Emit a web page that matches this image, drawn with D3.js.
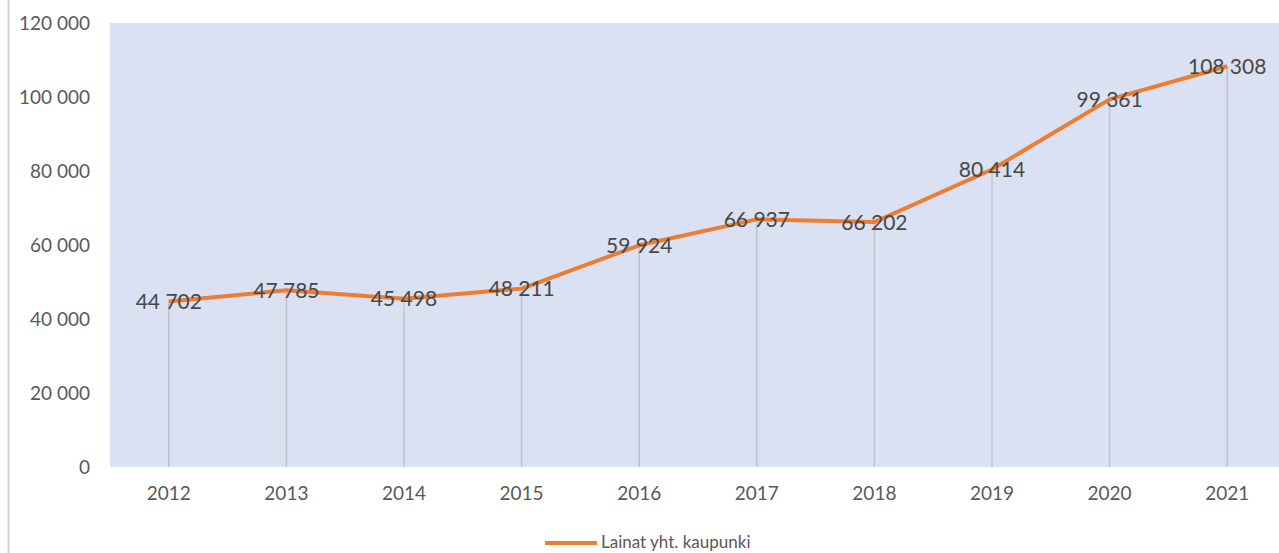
<!doctype html>
<html lang="fi">
<head>
<meta charset="UTF-8">
<script src="https://cdn.jsdelivr.net/npm/d3@7"></script>
<style>
body { margin: 0; background: #fff; }
svg { display: block; font-family: Lato, "Open Sans", sans-serif; }
.tick text { fill: #595959; }
.lbl { fill: #474747; }
</style>
</head>
<body>
<svg id="chart" width="1279" height="553"></svg>
<script>
'use strict';

var years  = ['2012', '2013', '2014', '2015', '2016', '2017', '2018', '2019', '2020', '2021'];
var lainat = [44702, 47785, 45498, 48211, 59924, 66937, 66202, 80414, 99361, 108308];
var yTicks = [0, 20000, 40000, 60000, 80000, 100000, 120000];
var seriesName = 'Lainat yht. kaupunki';

var data = years.map(function(y, i) { return {year: y, value: lainat[i]}; });

var plotLeft = 110, plotRight = 1286, plotTop = 23, plotBottom = 467;
var svg = d3.select('#chart');

var x = d3.scaleBand().domain(years).range([plotLeft, plotRight]);
var y = d3.scaleLinear().domain([0, 120000]).range([plotBottom, plotTop]);
var fmt = function(v) { return d3.format(',')(v).replace(/,/g, ' '); };

// chart border on the left
svg.append('line')
  .attr('x1', 8.5).attr('x2', 8.5).attr('y1', 0).attr('y2', 553)
  .attr('stroke', '#d4d4d4').attr('stroke-width', 2);

// plot background
svg.append('rect')
  .attr('x', plotLeft).attr('y', plotTop)
  .attr('width', plotRight - plotLeft).attr('height', plotBottom - plotTop)
  .attr('fill', '#d9e1f2');

// drop lines
svg.selectAll('.drop')
  .data(data).enter().append('line')
  .attr('class', 'drop')
  .attr('x1', function(d) { return x(d.year) + x.bandwidth() / 2; })
  .attr('x2', function(d) { return x(d.year) + x.bandwidth() / 2; })
  .attr('y1', function(d) { return y(d.value); })
  .attr('y2', plotBottom)
  .attr('stroke', '#bfc3ca').attr('stroke-width', 1.5);

// y axis
var yAxis = svg.append('g')
  .attr('transform', 'translate(' + (plotLeft - 17) + ',0)')
  .call(d3.axisLeft(y).tickValues(yTicks).tickFormat(fmt).tickSize(0));
yAxis.select('.domain').remove();
yAxis.selectAll('text').attr('font-size', 19).attr('font-family', 'Lato, sans-serif');

// x axis
var xAxis = svg.append('g')
  .attr('transform', 'translate(0,' + plotBottom + ')')
  .call(d3.axisBottom(x).tickSize(0).tickPadding(20));
xAxis.select('.domain').remove();
xAxis.selectAll('text').attr('font-size', 19).attr('font-family', 'Lato, sans-serif');

// line
var line = d3.line()
  .x(function(d) { return x(d.year) + x.bandwidth() / 2; })
  .y(function(d) { return y(d.value); });

svg.append('path')
  .datum(data)
  .attr('fill', 'none')
  .attr('stroke', '#ed7d31')
  .attr('stroke-width', 4)
  .attr('stroke-linejoin', 'round')
  .attr('d', line);

// data labels
svg.selectAll('.lbl')
  .data(data).enter().append('text')
  .attr('class', 'lbl')
  .attr('x', function(d) { return x(d.year) + x.bandwidth() / 2; })
  .attr('y', function(d) { return y(d.value); })
  .attr('dy', '0.36em')
  .attr('text-anchor', 'middle')
  .attr('font-size', 21)
  .text(function(d) { return fmt(d.value); });

// legend (kept just inside the bottom edge)
var lg = svg.append('g').attr('transform', 'translate(545,543)');
lg.append('line').attr('x1', 0).attr('x2', 52)
  .attr('stroke', '#ed7d31').attr('stroke-width', 4);
lg.append('text').attr('x', 56).attr('y', 5)
  .attr('font-size', 17).attr('fill', '#595959')
  .text(seriesName);
</script>
</body>
</html>
